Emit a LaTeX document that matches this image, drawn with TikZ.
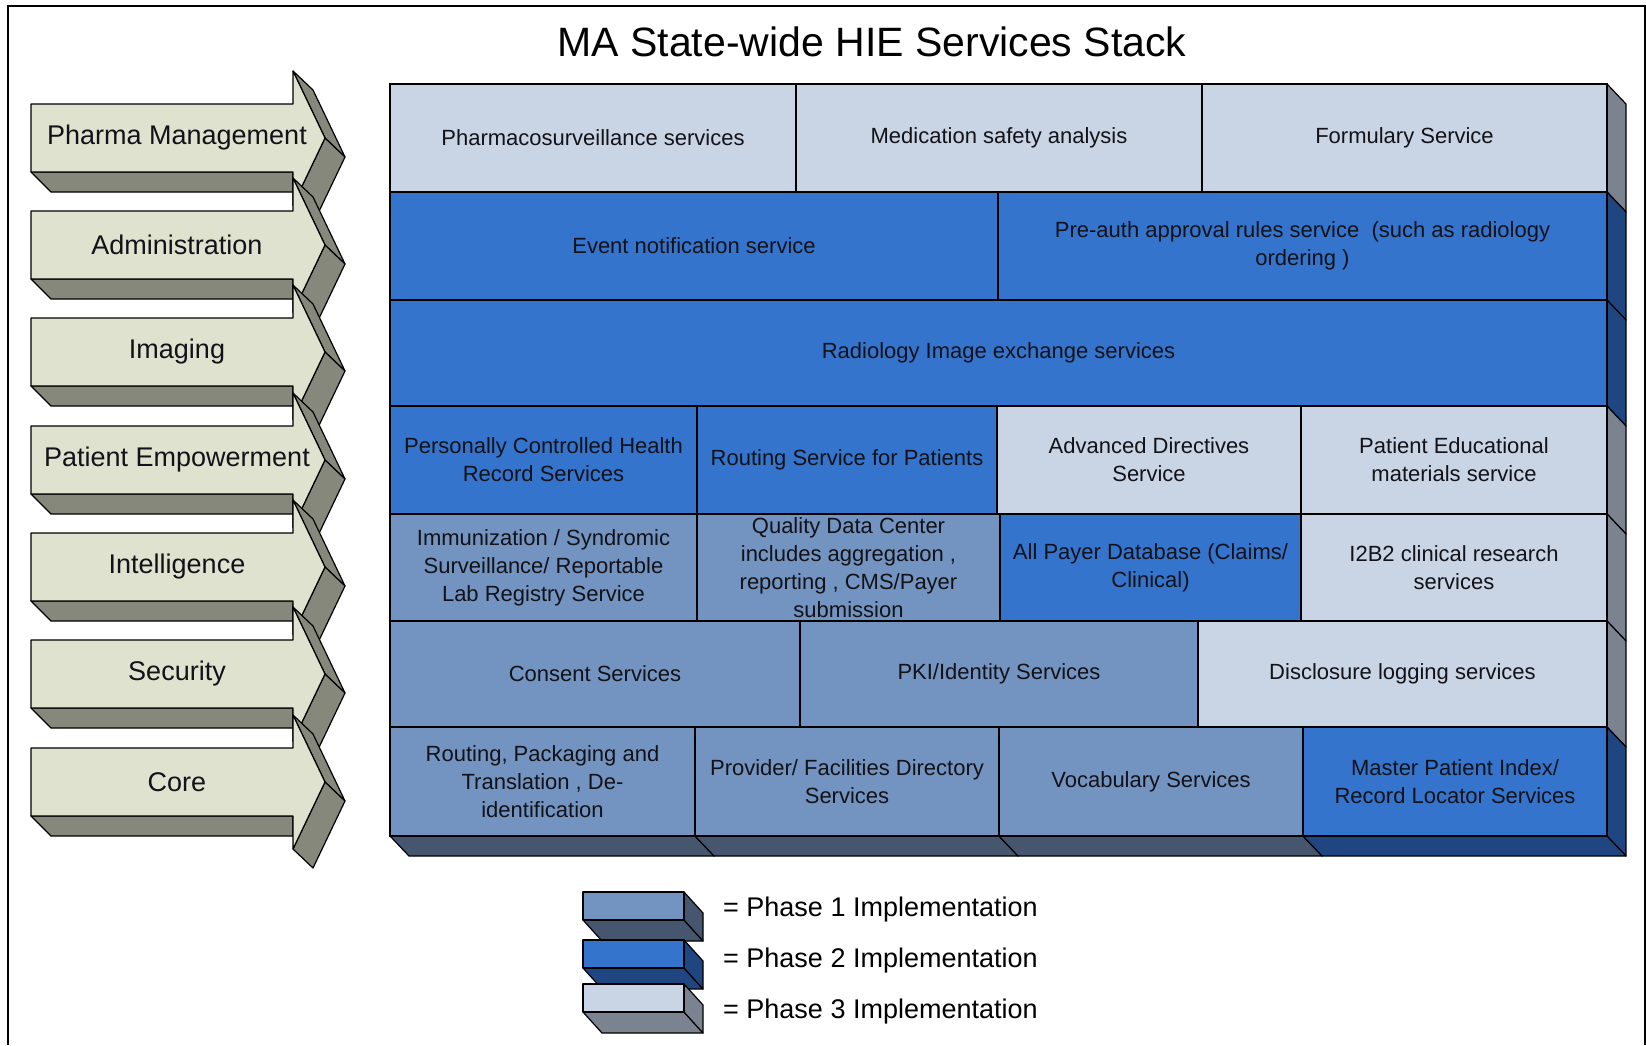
\documentclass[tikz,border=0pt]{standalone}
\usepackage{fontspec}
\setmainfont{Liberation Sans}

% phase colours: front faces and shaded side faces
\definecolor{pOneFront}{HTML}{7394C0}
\definecolor{pOneSide}{HTML}{46566F}
\definecolor{pTwoFront}{HTML}{3474CC}
\definecolor{pTwoSide}{HTML}{1F4680}
\definecolor{pThreeFront}{HTML}{C9D5E4}
\definecolor{pThreeSide}{HTML}{7B8390}
\definecolor{arrowFront}{HTML}{DEE2CE}
\definecolor{arrowSide}{HTML}{86887C}
\definecolor{inkText}{HTML}{121218}

\tikzset{
  edge/.style={draw=black, line width=1.2pt, line join=round},
  cellbox/.style={draw=black, line width=1.6pt},
  phaseone/.style={fill=pOneFront},
  phasetwo/.style={fill=pTwoFront},
  phasethree/.style={fill=pThreeFront},
  celltext/.style={font=\fontsize{22}{28}\selectfont, text=inkText, align=center, inner sep=0pt},
  arrowtext/.style={font=\fontsize{27}{32}\selectfont, text=inkText, inner sep=0pt},
  legendtext/.style={font=\fontsize{27}{32}\selectfont, text=black, inner sep=0pt, anchor=base west},
}

% one service cell: name, x1, y1, x2, y2, phase style, label
\newcommand\hiecell[7]{%
  \draw[cellbox,#6] (#2,#3) rectangle (#4,#5);
  \node[celltext] (#1) at ({(#2+#4)/2},{(#3+#5)/2}) {#7};
}

% shaded right-hand face of one row: top y, bottom y, colour
\newcommand\rowside[3]{%
  \filldraw[edge,fill=#3] (1607,#1) -- (1626,#1+20) -- (1626,#2+20) -- (1607,#2) -- cycle;
}

% shaded bottom face under one cell of the last row: x1, x2, colour
\newcommand\cellfloor[3]{%
  \filldraw[edge,fill=#3] (#1,836) -- (#2,836) -- (#2+19,856) -- (#1+19,856) -- cycle;
}

% extruded layer arrow: name, centre y, label
\newcommand\layerarrow[3]{%
  \filldraw[edge,fill=arrowSide] (31,#2+34) -- (293,#2+34) -- (293,#2+54) -- (51,#2+54) -- cycle;
  \filldraw[edge,fill=arrowSide] (293,#2-67) -- (325,#2) -- (345,#2+19) -- (313,#2-48) -- cycle;
  \filldraw[edge,fill=arrowSide] (325,#2) -- (293,#2+67) -- (313,#2+86) -- (345,#2+19) -- cycle;
  \filldraw[edge,fill=arrowFront] (31,#2-34) -- (293,#2-34) -- (293,#2-67) -- (325,#2)
     -- (293,#2+67) -- (293,#2+34) -- (31,#2+34) -- cycle;
  \node[arrowtext] (#1) at (177,#2) {#3};
}

% legend block: name, top y, bottom y, front colour, side colour
\newcommand\legendblock[5]{%
  \filldraw[edge,fill=#5] (583,#3) -- (684,#3) -- (703,#3+21) -- (602,#3+21) -- cycle;
  \filldraw[edge,fill=#5] (684,#2) -- (703,#2+21) -- (703,#3+21) -- (684,#3) -- cycle;
  \draw[edge,fill=#4] (583,#2) rectangle (684,#3);
  \coordinate (#1) at (703,{(#2+#3)/2});
}

\begin{document}
\begin{tikzpicture}[x=1pt,y=-1pt]
\useasboundingbox (0,0) rectangle (1646,1045);

% outer frame (open at the bottom)
\draw[line width=2pt] (8,1045) -- (8,6) -- (1645,6) -- (1645,1045);

% title
\node[font=\fontsize{41}{48}\selectfont, text=black, inner sep=0pt] (title) at (872,42)
  {MA State-wide HIE Services Stack};

% layer arrows
\layerarrow{pharma}{138}{Pharma Management}
\layerarrow{admin}{245}{Administration}
\layerarrow{imaging}{352}{Imaging}
\layerarrow{empower}{460}{Patient Empowerment}
\layerarrow{intel}{567}{Intelligence}
\layerarrow{security}{674}{Security}
\layerarrow{core}{782}{Core}

% right-hand faces of the stack
\rowside{84}{192}{pThreeSide}
\rowside{192}{300}{pTwoSide}
\rowside{300}{406}{pTwoSide}
\rowside{406}{514}{pThreeSide}
\rowside{514}{621}{pThreeSide}
\rowside{621}{727}{pThreeSide}
\rowside{727}{836}{pTwoSide}

% bottom faces of the stack
\cellfloor{390}{695}{pOneSide}
\cellfloor{695}{999}{pOneSide}
\cellfloor{999}{1303}{pOneSide}
\cellfloor{1303}{1607}{pTwoSide}

% row 1
\hiecell{pharmaco}{390}{84}{796}{192}{phasethree}{Pharmacosurveillance services}
\hiecell{medsafety}{796}{84}{1202}{192}{phasethree}{Medication safety analysis}
\hiecell{formulary}{1202}{84}{1607}{192}{phasethree}{Formulary Service}
% row 2
\hiecell{eventnote}{390}{192}{998}{300}{phasetwo}{Event notification service}
\hiecell{preauth}{998}{192}{1607}{300}{phasetwo}{Pre-auth approval rules service\ \ (such as radiology\\ordering )}
% row 3
\hiecell{radiology}{390}{300}{1607}{406}{phasetwo}{Radiology Image exchange services}
% row 4
\hiecell{pchr}{390}{406}{697}{514}{phasetwo}{Personally Controlled Health\\Record Services}
\hiecell{routepat}{697}{406}{997}{514}{phasetwo}{Routing Service for Patients}
\hiecell{advdir}{997}{406}{1301}{514}{phasethree}{Advanced Directives\\Service}
\hiecell{pateduc}{1301}{406}{1607}{514}{phasethree}{Patient Educational\\materials service}
% row 5
\hiecell{immun}{390}{514}{697}{621}{phaseone}{Immunization / Syndromic\\Surveillance/ Reportable\\Lab Registry Service}
\hiecell{quality}{697}{514}{1000}{621}{phaseone}{Quality Data Center\\includes aggregation ,\\reporting , CMS/Payer\\submission}
\hiecell{allpayer}{1000}{514}{1301}{621}{phasetwo}{All Payer Database (Claims/\\Clinical)}
\hiecell{itwobtwo}{1301}{514}{1607}{621}{phasethree}{I2B2 clinical research\\services}
% row 6
\hiecell{consent}{390}{621}{800}{727}{phaseone}{Consent Services}
\hiecell{pki}{800}{621}{1198}{727}{phaseone}{PKI/Identity Services}
\hiecell{disclosure}{1198}{621}{1607}{727}{phasethree}{Disclosure logging services}
% row 7
\hiecell{routing}{390}{727}{695}{836}{phaseone}{Routing, Packaging and\\Translation , De-\\identification}
\hiecell{provider}{695}{727}{999}{836}{phaseone}{Provider/ Facilities Directory\\Services}
\hiecell{vocab}{999}{727}{1303}{836}{phaseone}{Vocabulary Services}
\hiecell{mpi}{1303}{727}{1607}{836}{phasetwo}{Master Patient Index/\\Record Locator Services}

% legend
\legendblock{keyone}{892}{920}{pOneFront}{pOneSide}
\legendblock{keytwo}{940}{968}{pTwoFront}{pTwoSide}
\legendblock{keythree}{984}{1012}{pThreeFront}{pThreeSide}
\node[legendtext] (keyonetext) at (723,916) {= Phase 1 Implementation};
\node[legendtext] (keytwotext) at (723,967) {= Phase 2 Implementation};
\node[legendtext] (keythreetext) at (723,1018) {= Phase 3 Implementation};
\end{tikzpicture}
\end{document}
